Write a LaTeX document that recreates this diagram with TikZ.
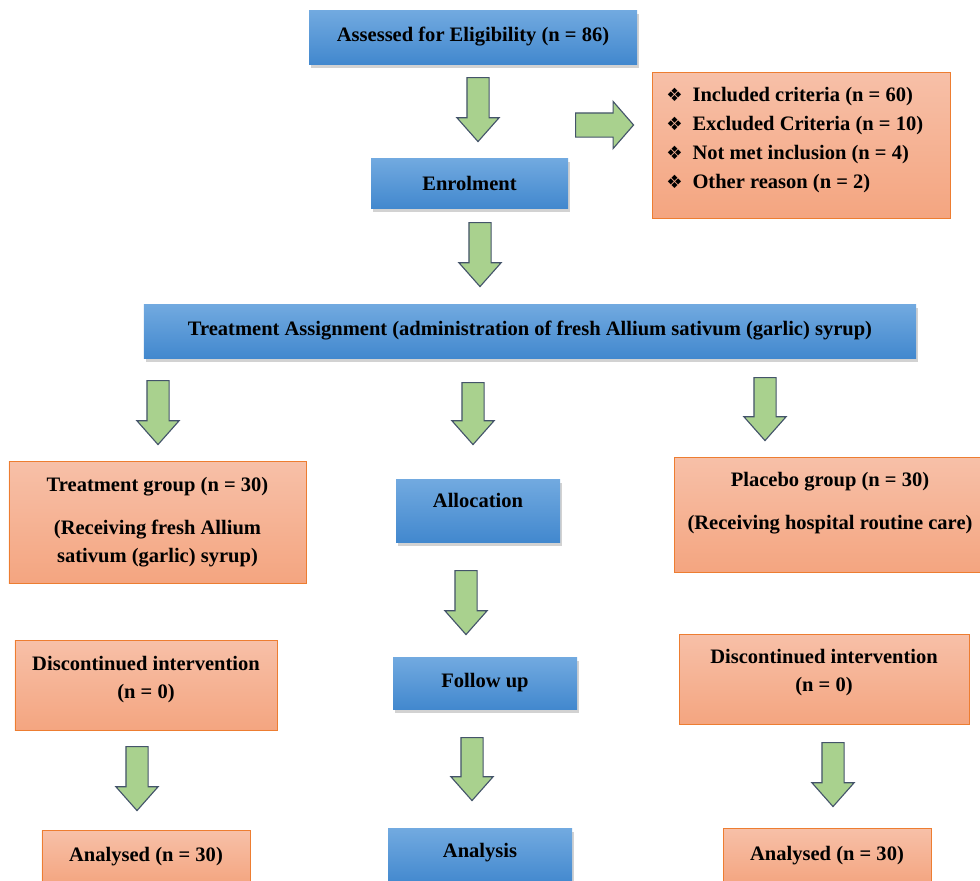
\documentclass[tikz,border=0pt]{standalone}
\usepackage{fontspec}
\setmainfont{Liberation Serif}
\newfontfamily\symfont{DejaVu Sans}
\usetikzlibrary{shapes.arrows, shadows}
\definecolor{blueT}{RGB}{114,170,224}
\definecolor{blueB}{RGB}{66,136,206}
\definecolor{orangeT}{RGB}{247,192,168}
\definecolor{orangeB}{RGB}{244,165,128}
\definecolor{orangeLine}{RGB}{237,125,49}
\definecolor{arrowFill}{RGB}{169,209,142}
\definecolor{arrowLine}{RGB}{68,84,106}
\newcommand{\critbullet}{{\symfont\fontsize{13}{13}\selectfont ❖}\hspace{7pt}}
\tikzset{
  boxtext/.style={font=\bfseries\fontsize{14.6}{20}\selectfont, align=center, inner sep=0pt},
  bluebox/.style={boxtext, top color=blueT, bottom color=blueB, draw=none,
    drop shadow={shadow xshift=0.4mm, shadow yshift=-0.9mm, opacity=0.35}},
  orangebox/.style={boxtext, top color=orangeT, bottom color=orangeB, draw=orangeLine, line width=0.7pt},
  garrow/.style={single arrow, draw=arrowLine, fill=arrowFill, line width=0.8pt, inner xsep=0pt, inner ysep=2.625mm,
    minimum width=10.25mm, single arrow head extend=2.5mm, single arrow tip angle=83, rotate=-90, anchor=tail},
  rarrow/.style={single arrow, draw=arrowLine, fill=arrowFill, line width=0.8pt, inner xsep=0pt, inner ysep=2.875mm,
    minimum width=11.5mm, single arrow head extend=2.875mm, single arrow tip angle=98, anchor=tail}
}

\begin{document}
\begin{tikzpicture}[x=0.25mm, y=-0.25mm]
\fill[white] (0,0) rectangle (980,880);
\useasboundingbox (0,0) rectangle (980,880);

% boxes
\node[bluebox, minimum width=82mm, minimum height=13.5mm] (assess) at (473,37) {Assessed for Eligibility (n = 86)};
\node[orangebox, minimum width=74.5mm, minimum height=36.5mm] (crit) at (801,145) {};
\node[boxtext, align=left, anchor=west, font=\bfseries\fontsize{14.6}{20.6}\selectfont] (critlist) at (666,140.5)
  {\critbullet Included criteria (n = 60)\\
   \critbullet Excluded Criteria (n = 10)\\
   \critbullet Not met inclusion (n = 4)\\
   \critbullet Other reason (n = 2)};
\node[bluebox, minimum width=49.25mm, minimum height=12.5mm] (enrol) at (469.5,183) {Enrolment};
\node[bluebox, minimum width=193mm, minimum height=13.5mm] (assign) at (530,331)
  {Treatment Assignment (administration of fresh Allium sativum (garlic) syrup)};
\node[orangebox, minimum width=74.25mm, minimum height=30.5mm] (treat) at (157.5,522)
  {Treatment group (n = 30)\\[10.5pt](Receiving fresh Allium\\sativum (garlic) syrup)};
\node[bluebox, minimum width=41mm, minimum height=15.75mm, text depth=5mm] (alloc) at (478,510.5) {Allocation};
\node[orangebox, minimum width=78mm, minimum height=28.75mm, text depth=7mm] (placebo) at (830,514.5)
  {Placebo group (n = 30)\\[10.5pt](Receiving hospital routine care)};
\node[orangebox, minimum width=65.5mm, minimum height=22.5mm, text depth=4mm] (discL) at (146,685)
  {Discontinued intervention\\(n = 0)};
\node[bluebox, minimum width=46mm, minimum height=13mm] (follow) at (485,683) {Follow up};
\node[orangebox, minimum width=72.5mm, minimum height=22.5mm, text depth=4.5mm] (discR) at (824,679)
  {Discontinued intervention\\(n = 0)};
\node[orangebox, minimum width=52mm, minimum height=13.5mm] (analL) at (146,857) {Analysed (n = 30)};
\node[bluebox, minimum width=46mm, minimum height=14mm, text depth=3mm] (analysis) at (480,856) {Analysis};
\node[orangebox, minimum width=52mm, minimum height=14mm] (analR) at (827,856) {Analysed (n = 30)};

% block arrows
\node[garrow, minimum height=16mm] (d1) at (478,77) {};
\node[rarrow, minimum height=14.5mm] (r1) at (575,125) {};
\node[garrow, minimum height=16mm] (d2) at (480,222) {};
\node[garrow, minimum height=16mm] (dL) at (158,380) {};
\node[garrow, minimum height=15.5mm] (dM) at (473,382) {};
\node[garrow, minimum height=15.75mm] (dR) at (765,377) {};
\node[garrow, minimum height=16mm] (dM2) at (466,570) {};
\node[garrow, minimum height=16mm] (dL3) at (137,746) {};
\node[garrow, minimum height=15.75mm] (dM3) at (472,737) {};
\node[garrow, minimum height=16mm] (dR3) at (833,742) {};
\end{tikzpicture}
\end{document}
